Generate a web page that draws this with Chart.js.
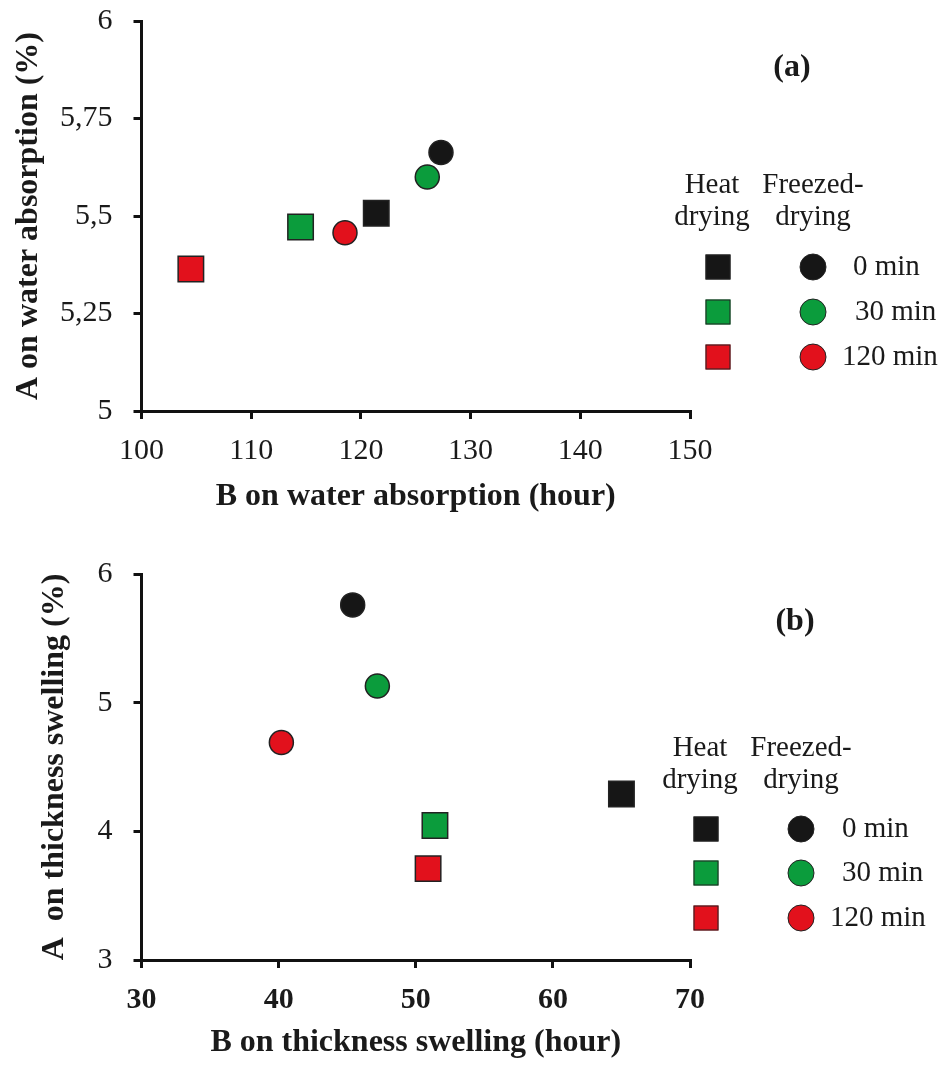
<!DOCTYPE html>
<html>
<head>
<meta charset="utf-8">
<script src="https://cdn.jsdelivr.net/npm/chart.js@4.4.1/dist/chart.umd.min.js"></script>
<style>
  html, body { margin: 0; padding: 0; background: #fff; }
  body { width: 943px; height: 1068px; position: relative; overflow: hidden;
         font-family: "Liberation Serif", "DejaVu Serif", serif; color: #1a1a1a; }
  canvas { position: absolute; left: 0; }
  .txt { position: absolute; font-size: 29px; line-height: 32px; white-space: nowrap; }
  .c { transform: translateX(-50%); text-align: center; }
  .tag { position: absolute; font-size: 32px; font-weight: bold; transform: translate(-50%, -50%); }
  .mk { position: absolute; width: 25px; height: 25px; border: 1.5px solid #222;
        transform: translate(-50%, -50%); box-sizing: border-box; }
  .mk.circ { border-radius: 50%; width: 27px; height: 27px; }
</style>
</head>
<body>
<canvas id="chartA" width="943" height="530" style="top:0"></canvas>
<canvas id="chartB" width="943" height="538" style="top:530px"></canvas>
<div id="legend"></div>
<script>
// --- data ---
const timeLabels = ["0 min", "30 min", "120 min"];
const timeColors = ["#161616", "#0b9c3c", "#e2111c"];

// (a) water absorption
const heatWaterB = [121.4, 114.5, 104.5];
const heatWaterA = [5.507, 5.472, 5.364];
const freezeWaterB = [127.3, 126.05, 118.55];
const freezeWaterA = [5.663, 5.600, 5.457];
const waterTicks = [5, 5.25, 5.5, 5.75, 6];

// (b) thickness swelling
const heatSwellB = [65.0, 51.4, 50.9];
const heatSwellA = [4.29, 4.045, 3.71];
const freezeSwellB = [45.4, 47.2, 40.2];
const freezeSwellA = [5.76, 5.13, 4.69];

const FONT = '"Liberation Serif", "DejaVu Serif", serif';
const INK = "#1a1a1a";

function pts(xs, ys) { return xs.map((x, i) => ({ x, y: ys[i] })); }

function datasets(hx, hy, fx, fy) {
  return [
    { label: "Heat drying", data: pts(hx, hy), pointStyle: "rect", pointRadius: 18,
      backgroundColor: timeColors, borderColor: "#222", borderWidth: 1.5, showLine: false },
    { label: "Freezed-drying", data: pts(fx, fy), pointStyle: "circle", pointRadius: 12,
      backgroundColor: timeColors, borderColor: "#222", borderWidth: 1.5, showLine: false }
  ];
}

function makeChart(id, cfg) {
  const ctx = document.getElementById(id).getContext("2d");
  return new Chart(ctx, {
    type: "scatter",
    data: { datasets: cfg.datasets },
    options: {
      responsive: false,
      animation: false,
      events: [],
      layout: { autoPadding: false, padding: { top: cfg.top, right: 253, left: 0, bottom: 0 } },
      plugins: { legend: { display: false }, tooltip: { enabled: false } },
      scales: {
        x: {
          type: "linear", min: cfg.xMin, max: cfg.xMax,
          ticks: { stepSize: 10, color: INK, padding: 14,
                   font: { family: FONT, size: 30, weight: cfg.xBold ? "bold" : "normal" } },
          grid: { display: true, drawOnChartArea: false, drawTicks: true, tickLength: 8,
                  color: "#111", lineWidth: 3 },
          border: { display: true, color: "#111", width: 3 },
          title: { display: true, text: cfg.xTitle, color: INK,
                   font: { family: FONT, size: 32, weight: "bold" },
                   padding: { top: 0, bottom: cfg.xTitlePad } },
          afterFit: s => { s.height = cfg.xHeight; }
        },
        y: {
          type: "linear", min: cfg.yMin, max: cfg.yMax,
          afterBuildTicks: cfg.yTicks ? (s => { s.ticks = cfg.yTicks.map(v => ({ value: v })); }) : undefined,
          ticks: { stepSize: 1, color: INK, padding: 21,
                   font: { family: FONT, size: 30 },
                   callback: v => String(v).replace(".", ",") },
          grid: { display: true, drawOnChartArea: false, drawTicks: true, tickLength: 8,
                  color: "#111", lineWidth: 3 },
          border: { display: true, color: "#111", width: 3 },
          title: { display: true, text: cfg.yTitle, color: INK,
                   font: { family: FONT, size: 32, weight: "bold" },
                   padding: { top: cfg.yTitlePad, bottom: 0 } },
          afterFit: s => { s.width = 141.5; s.paddingTop = 0; s.paddingBottom = 0; }
        }
      }
    }
  });
}

makeChart("chartA", {
  datasets: datasets(heatWaterB, heatWaterA, freezeWaterB, freezeWaterA),
  top: 21, xMin: 100, xMax: 150, yMin: 5, yMax: 6, yTicks: waterTicks,
  xHeight: 119, xTitlePad: 14, yTitlePad: 10,
  xTitle: "B on water absorption (hour)", yTitle: "A on water absorption (%)"
});

makeChart("chartB", {
  datasets: datasets(heatSwellB, heatSwellA, freezeSwellB, freezeSwellA),
  top: 44, xMin: 30, xMax: 70, yMin: 3, yMax: 6, xBold: true,
  xHeight: 108, xTitlePad: 6, yTitlePad: 36,
  xTitle: "B on thickness swelling (hour)", yTitle: "A  on thickness swelling (%)"
});

// --- legends and panel tags (HTML) ---
const legend = document.getElementById("legend");
function add(html) { legend.insertAdjacentHTML("beforeend", html); }

function drawLegend(tag, tagX, tagY, head, rowY, labelLeft) {
  add(`<div class="tag" style="left:${tagX}px;top:${tagY}px">${tag}</div>`);
  add(`<div class="txt c" style="left:${head.hx}px;top:${head.y}px">Heat<br>drying</div>`);
  add(`<div class="txt c" style="left:${head.fx}px;top:${head.y}px">Freezed-<br>drying</div>`);
  timeLabels.forEach((lab, i) => {
    const y = rowY[i];
    add(`<div class="mk" style="left:${head.hx + 6}px;top:${y}px;background:${timeColors[i]}"></div>`);
    add(`<div class="mk circ" style="left:${head.fx}px;top:${y}px;background:${timeColors[i]}"></div>`);
    add(`<div class="txt" style="left:${labelLeft[i]}px;top:${y - 18}px">${lab}</div>`);
  });
}

drawLegend("(a)", 792, 65, { hx: 712, fx: 813, y: 167 }, [267, 312, 357], [853, 855, 842]);
drawLegend("(b)", 795, 619, { hx: 700, fx: 801, y: 730 }, [829, 873, 918], [842, 842, 830]);
</script>
</body>
</html>
